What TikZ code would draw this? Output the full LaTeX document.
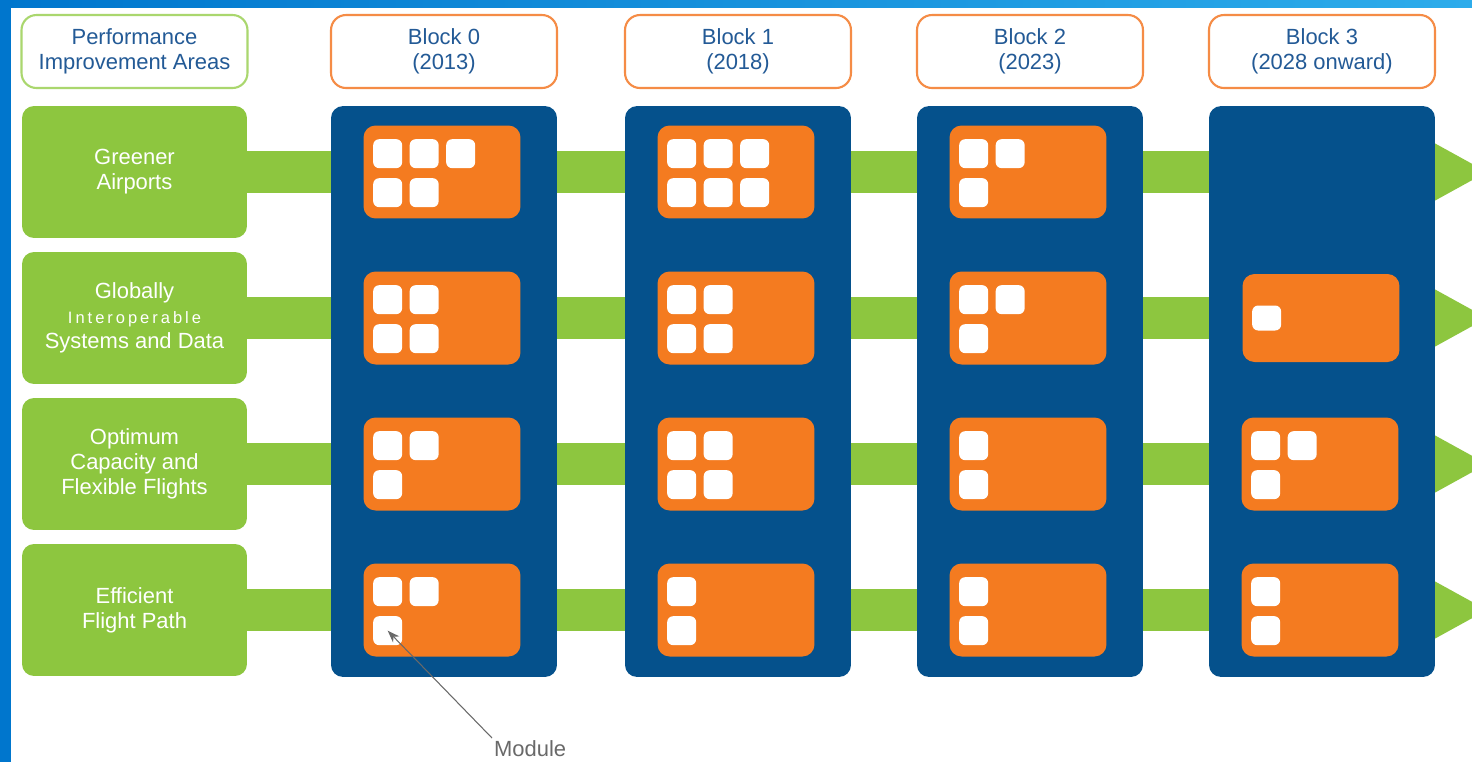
\documentclass[tikz,border=0pt]{standalone}
\usepackage{fontspec}
\setmainfont{Liberation Sans}
\usetikzlibrary{arrows.meta}
\usetikzlibrary{positioning, calc}
\pgfdeclarelayer{background}
\pgfsetlayers{background,main}

\begin{document}
\begin{tikzpicture}[x=0.02cm,y=-0.02cm]
  \definecolor{areagreen}{RGB}{141,198,63}
  \definecolor{headgreen}{RGB}{170,215,110}
  \definecolor{blockblue}{RGB}{5,81,140}
  \definecolor{pkgorange}{RGB}{244,123,32}
  \definecolor{headorange}{RGB}{245,140,70}
  \definecolor{headblue}{RGB}{35,90,150}
  \definecolor{modgray}{RGB}{105,105,105}
  \definecolor{frameblue}{RGB}{0,118,205}
  \definecolor{framecyan}{RGB}{45,172,235}
  \tikzstyle{txt}=[font=\fontsize{12.5}{14.3}\selectfont]
  \tikzstyle{titlebox}=[draw=headorange,line width=1.2pt,fill=white,rounded corners=0.3cm,
    minimum width=4.52cm,minimum height=1.46cm,text=headblue,align=center,txt]
  \tikzstyle{areabox}=[fill=areagreen,rounded corners=0.24cm,minimum width=4.5cm,
    minimum height=2.64cm,text=white,align=center,font=\fontsize{12.5}{14.3}\selectfont]
  \tikzstyle{blockcol}=[fill=blockblue,rounded corners=0.24cm,minimum width=4.52cm,minimum height=11.42cm]
  \tikzstyle{pkgbox}=[fill=pkgorange,rounded corners=0.24cm,minimum width=3.14cm,minimum height=1.86cm]
  \tikzstyle{modbox}=[fill=white,rounded corners=0.12cm,minimum size=0.58cm,inner sep=0pt]
  \tikzstyle{lane}=[draw=areagreen,line width=0.84cm,-{Triangle[length=1.06cm,width=1.06cm]}]

  \useasboundingbox (0,0) rectangle (1472,762);
  \clip (0,0) rectangle (1472,762);

  % FRAME
  \begin{pgfonlayer}{background}
    \fill[white] (0,0) rectangle (1472,762);
    \fill[frameblue] (0,0) rectangle (11,762);
    \shade[left color=frameblue,right color=framecyan] (0,0) rectangle (1472,7);
  \end{pgfonlayer}

  % HEADERS AND BLOCKS
  \node[titlebox,draw=headgreen] (pia) at (134.5,51.5) {Performance\\Improvement Areas};
  \foreach \b/\x/\lbl in {0/444/{Block 0\\(2013)},1/738/{Block 1\\(2018)},
      2/1030/{Block 2\\(2023)},3/1322/{Block 3\\(2028 onward)}}{
      \node[titlebox] (head\b) at (\x,51.5) {\lbl};
      \node[blockcol] (block\b) at (\x,391.5) {};
    }

  % PERFORMANCE AREAS
  \foreach \r/\y/\lbl in {1/172/{Greener\\Airports},
      2/318/{Globally\\{\fontsize{9.4}{14.3}\selectfont\addfontfeature{LetterSpace=18}Interoperable}\\Systems and Data},
      3/464/{Optimum\\Capacity and\\Flexible Flights},
      4/610/{Efficient\\Flight Path}}{
      \node[areabox] (area\r) at (134.5,\y) {\lbl};
    }

  % LANES
  \coordinate (tip) at (1488,0);
  \begin{pgfonlayer}{background}
    \foreach \r in {1,...,4}{
        \draw[lane] (area\r.east) -- (area\r.east -| tip);
      }
  \end{pgfonlayer}

  % PACKAGES AND MODULES
  \foreach \b/\r/\pat in {0/1/{0/0,1/0,2/0,0/1,1/1},0/2/{0/0,1/0,0/1,1/1},
      0/3/{0/0,1/0,0/1},0/4/{0/0,1/0,0/1},
      1/1/{0/0,1/0,2/0,0/1,1/1,2/1},1/2/{0/0,1/0,0/1,1/1},
      1/3/{0/0,1/0,0/1,1/1},1/4/{0/0,0/1},
      2/1/{0/0,1/0,0/1},2/2/{0/0,1/0,0/1},2/3/{0/0,0/1},2/4/{0/0,0/1},
      3/3/{0/0,1/0,0/1},3/4/{0/0,0/1}}{
      \node[pkgbox] (pkg\b\r) at ($(block\b.center |- area\r.center)+(-2,0)$) {};
      \foreach \c/\k in \pat{
          \node[modbox] (mod\b\r\c\k) at ($(pkg\b\r.north west)+(24.5+36.5*\c,28.5+39*\k)$) {};
        }
    }
  \node[pkgbox,minimum height=1.76cm] (pkg32) at ($(block3.center |- area2.center)+(-1,0)$) {};
  \node[modbox,minimum height=0.5cm] (mod3200) at ($(pkg32.west)+(24.5,0)$) {};

  % MODULE LABEL
  \node[text=modgray,txt,anchor=north west,inner sep=1pt] (modlabel) at (492,738) {Module};
  \draw[modgray,line width=0.6pt,-{Stealth[length=7pt,width=5pt]}]
  (modlabel.north west) -- (mod0401.center);
\end{tikzpicture}
\end{document}
